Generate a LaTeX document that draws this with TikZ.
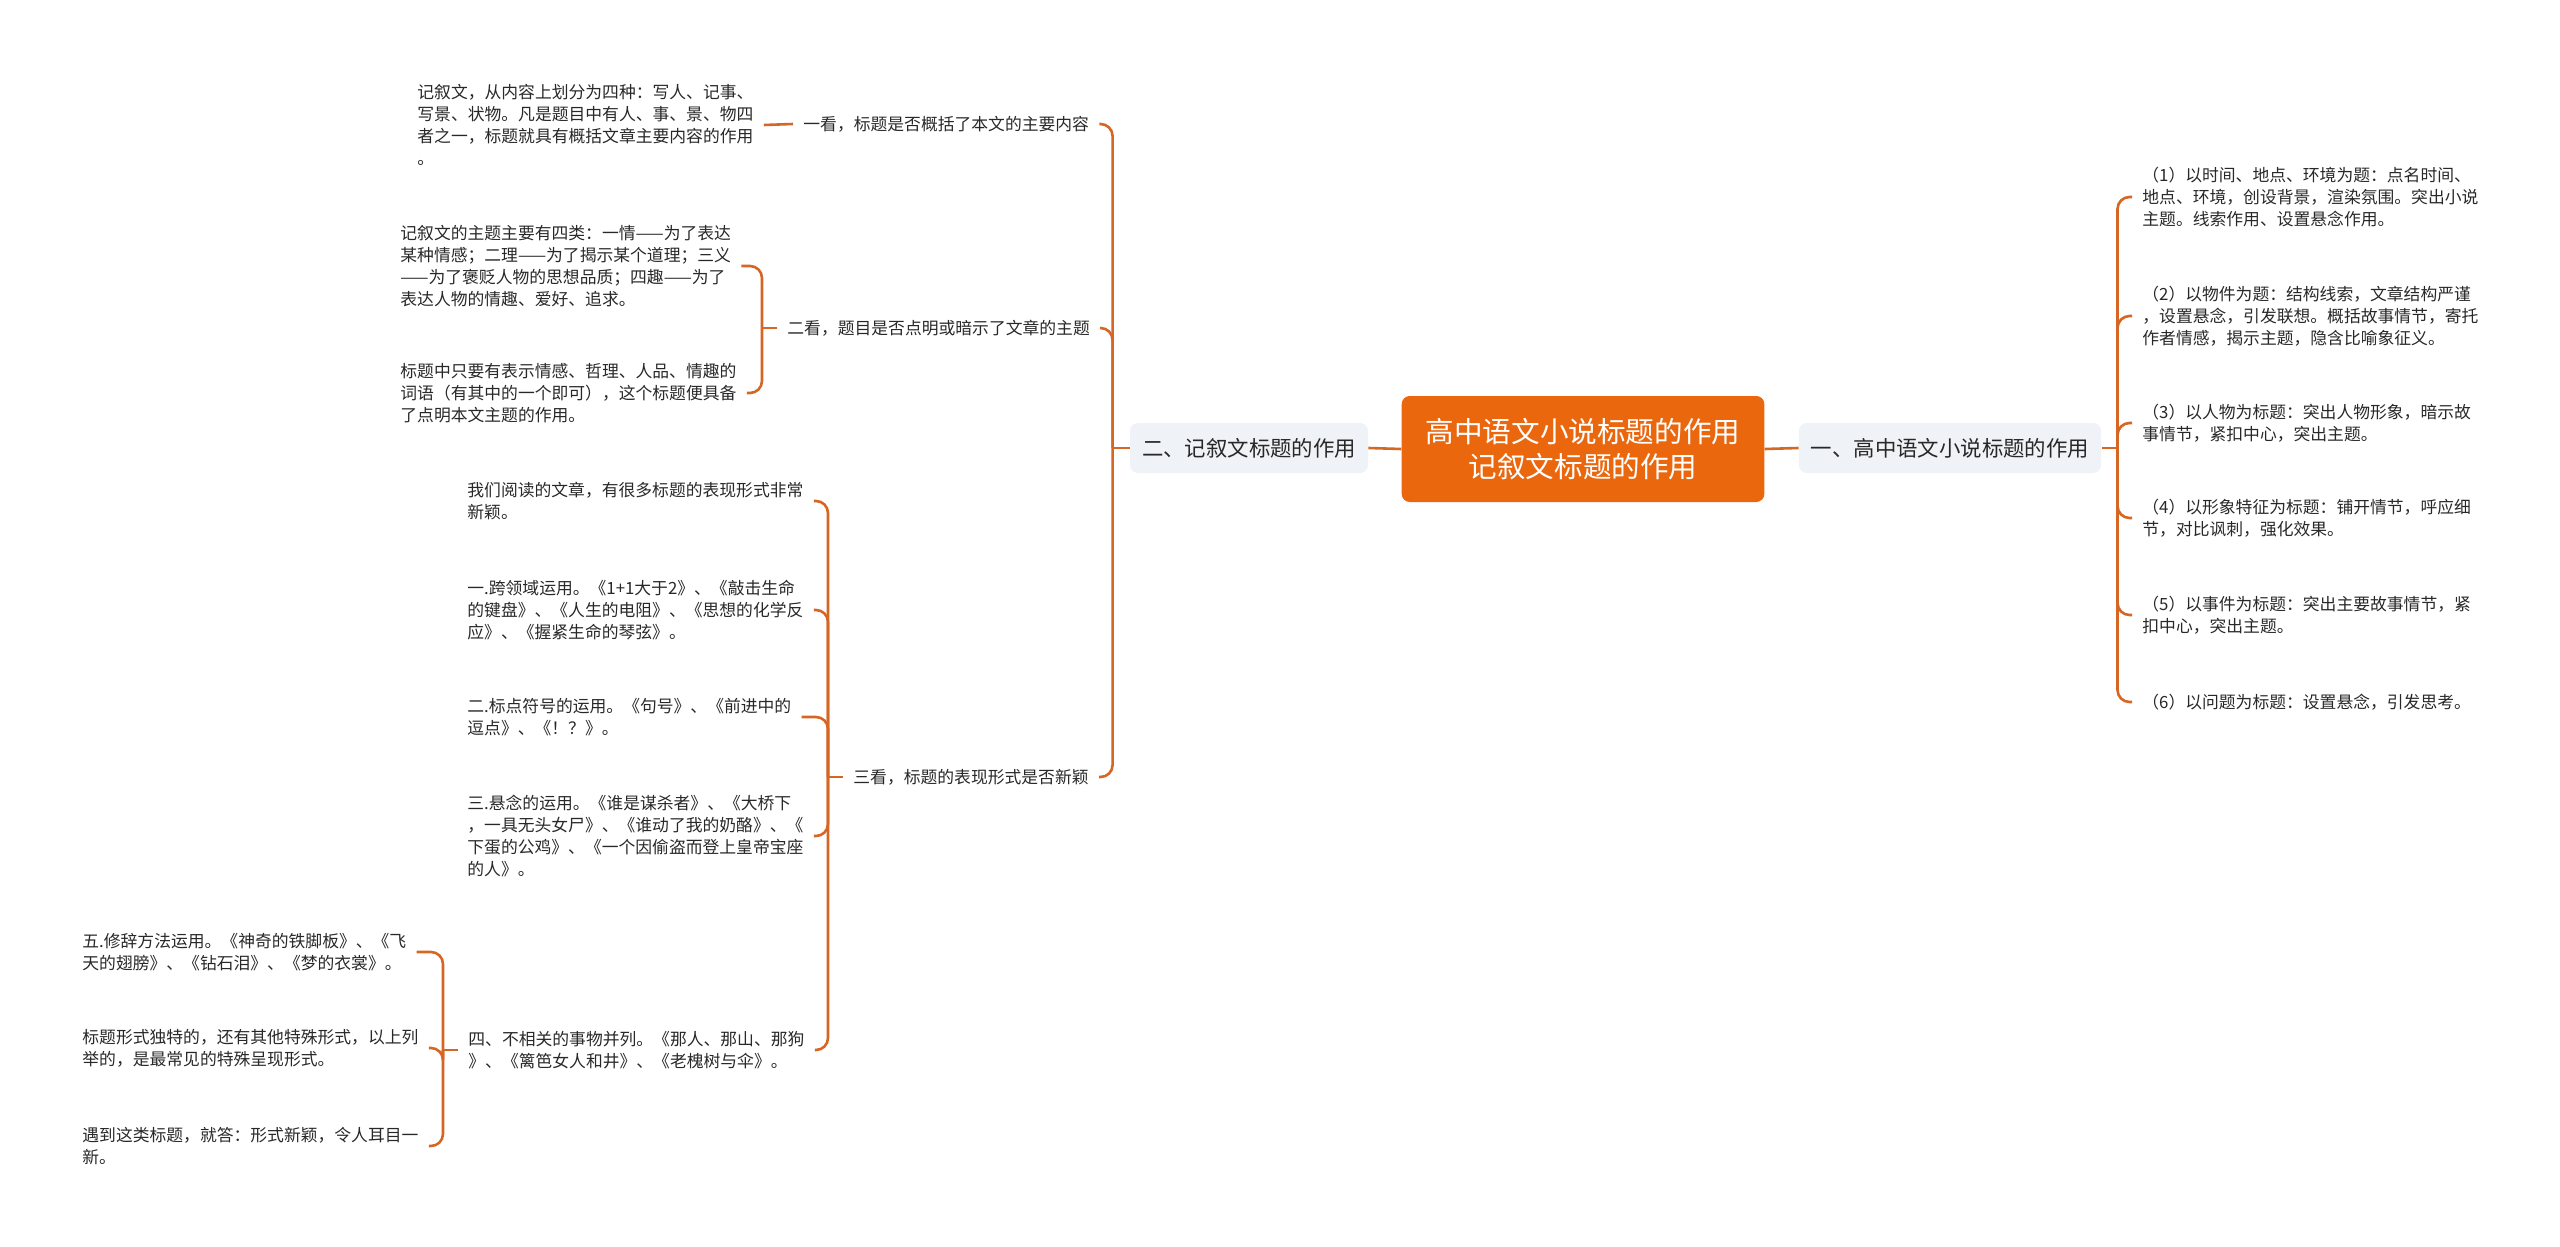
\documentclass[tikz,border=0pt]{standalone}
\usepackage{fontspec}
\setmainfont{Noto Sans CJK SC}
\usetikzlibrary{positioning}
\definecolor{rootorange}{RGB}{234,103,14}
\definecolor{topicgray}{RGB}{239,242,246}
\definecolor{linkorange}{RGB}{214,102,36}
\definecolor{inkgray}{RGB}{40,40,40}
\tikzset{
  rootbox/.style={rounded corners=4pt, fill=rootorange, text=white, align=center,
                  inner xsep=12pt, minimum height=53pt, font=\fontsize{14.3}{17.5}\selectfont},
  topicbox/.style={rounded corners=4pt, fill=topicgray, text=inkgray,
                  inner xsep=6pt, minimum height=25pt, font=\fontsize{10.7}{13}\selectfont},
  subtext/.style={anchor=west, text=inkgray, align=left, inner xsep=5pt, inner ysep=1pt,
                  font=\fontsize{8.4}{11}\selectfont},
  link/.style={draw=linkorange, line width=1.3pt, rounded corners=6pt},
}
\begin{document}
\begin{tikzpicture}[x=0.5pt, y=-0.5pt]
    \useasboundingbox (0,0) rectangle (2560,1247);
    % centre and first level
    \node[rootbox] (root) at (1583,449) {高中语文小说标题的作用\\记叙文标题的作用};
    \node[topicbox] (narr) at (1249,448) {二、记叙文标题的作用};
    \node[topicbox] (novel) at (1950,448) {一、高中语文小说标题的作用};
    \draw[link] (root.west)--(narr.east);\draw[link] (root.east)--(novel.west);

    % left: narrative titles
    \node[subtext] (look1) at (793,124) {一看，标题是否概括了本文的主要内容};
    \node[subtext] (look2) at (777,328) {二看，题目是否点明或暗示了文章的主题};
    \node[subtext] (look3) at (843,777) {三看，标题的表现形式是否新颖};
    \draw[link] (narr.west)--++(-17,0);
    \draw[link] (look1.east) -| ([xshift=-8.5pt]narr.west);\draw[link] (look2.east) -| ([xshift=-8.5pt]narr.west);\draw[link] (look3.east) -| ([xshift=-8.5pt]narr.west);

    \node[subtext] (content) at (407,125) {记叙文，从内容上划分为四种：写人、记事、\\写景、状物。凡是题目中有人、事、景、物四\\者之一，标题就具有概括文章主要内容的作用\\。};
    \draw[link] (content.east)--(look1.west);

    \node[subtext] (theme) at (390,266) {记叙文的主题主要有四类：一情——为了表达\\某种情感；二理——为了揭示某个道理；三义\\——为了褒贬人物的思想品质；四趣——为了\\表达人物的情趣、爱好、追求。};
    \node[subtext] (words) at (390,393) {标题中只要有表示情感、哲理、人品、情趣的\\词语（有其中的一个即可），这个标题便具备\\了点明本文主题的作用。};
    \draw[link] (look2.west)--++(-15,0);
    \draw[link] (theme.east) -| ([xshift=-7.5pt]look2.west);\draw[link] (words.east) -| ([xshift=-7.5pt]look2.west);

    \node[subtext] (novelty) at (457,501) {我们阅读的文章，有很多标题的表现形式非常\\新颖。};
    \node[subtext] (cross) at (457,610) {一.跨领域运用。《1+1大于2》、《敲击生命\\的键盘》、《人生的电阻》、《思想的化学反\\应》、《握紧生命的琴弦》。};
    \node[subtext] (punct) at (457,717) {二.标点符号的运用。《句号》、《前进中的\\逗点》、《！？》。};
    \node[subtext] (suspense) at (457,836) {三.悬念的运用。《谁是谋杀者》、《大桥下\\，一具无头女尸》、《谁动了我的奶酪》、《\\下蛋的公鸡》、《一个因偷盗而登上皇帝宝座\\的人》。};
    \node[subtext] (pairs) at (458,1050) {四、不相关的事物并列。《那人、那山、那狗\\》、《篱笆女人和井》、《老槐树与伞》。};
    \draw[link] (look3.west)--++(-15,0);
    \draw[link] (novelty.east) -| ([xshift=-7.5pt]look3.west);\draw[link] (cross.east) -| ([xshift=-7.5pt]look3.west);
    \draw[link] (punct.east) -| ([xshift=-7.5pt]look3.west);\draw[link] (suspense.east) -| ([xshift=-7.5pt]look3.west);
    \draw[link] (pairs.east) -| ([xshift=-7.5pt]look3.west);

    \node[subtext] (rhetoric) at (72,952) {五.修辞方法运用。《神奇的铁脚板》、《飞\\天的翅膀》、《钻石泪》、《梦的衣裳》。};
    \node[subtext] (special) at (72,1048) {标题形式独特的，还有其他特殊形式，以上列\\举的，是最常见的特殊呈现形式。};
    \node[subtext] (answer) at (72,1146) {遇到这类标题，就答：形式新颖，令人耳目一\\新。};
    \draw[link] (pairs.west)--++(-15,0);
    \draw[link] (rhetoric.east) -| ([xshift=-7.5pt]pairs.west);\draw[link] (special.east) -| ([xshift=-7.5pt]pairs.west);\draw[link] (answer.east) -| ([xshift=-7.5pt]pairs.west);

    % right: novel titles
    \node[subtext] (time) at (2132,197) {（1）以时间、地点、环境为题：点名时间、\\地点、环境，创设背景，渲染氛围。突出小说\\主题。线索作用、设置悬念作用。};
    \node[subtext] (object) at (2132,316) {（2）以物件为题：结构线索，文章结构严谨\\，设置悬念，引发联想。概括故事情节，寄托\\作者情感，揭示主题，隐含比喻象征义。};
    \node[subtext] (person) at (2132,423) {（3）以人物为标题：突出人物形象，暗示故\\事情节，紧扣中心，突出主题。};
    \node[subtext] (image) at (2132,518) {（4）以形象特征为标题：铺开情节，呼应细\\节，对比讽刺，强化效果。};
    \node[subtext] (event) at (2132,615) {（5）以事件为标题：突出主要故事情节，紧\\扣中心，突出主题。};
    \node[subtext] (question) at (2132,702) {（6）以问题为标题：设置悬念，引发思考。};
    \draw[link] (novel.east)--++(16,0);
    \draw[link] (time.west) -| ([xshift=8pt]novel.east);\draw[link] (object.west) -| ([xshift=8pt]novel.east);\draw[link] (person.west) -| ([xshift=8pt]novel.east);
    \draw[link] (image.west) -| ([xshift=8pt]novel.east);\draw[link] (event.west) -| ([xshift=8pt]novel.east);\draw[link] (question.west) -| ([xshift=8pt]novel.east);
\end{tikzpicture}
\end{document}
